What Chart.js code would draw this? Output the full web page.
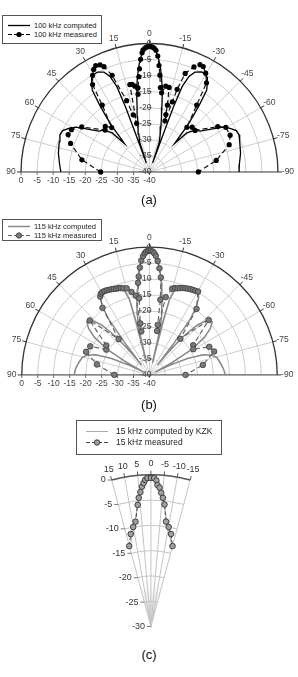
<!DOCTYPE html>
<html><head><meta charset="utf-8">
<script src="https://cdn.jsdelivr.net/npm/chart.js@4.4.0/dist/chart.umd.min.js"></script>
<style>
html,body{margin:0;padding:0;background:#fff;}
body{width:298px;height:677px;position:relative;overflow:hidden;font-family:"Liberation Sans",Arial,sans-serif;}
canvas{position:absolute;}
.legend{position:absolute;border:1px solid #555;background:#fff;z-index:2;box-sizing:border-box;}
.row{position:absolute;left:0;right:0;height:9px;white-space:nowrap;color:#222;}
.row svg{position:absolute;top:0;}
.row span{position:absolute;top:0;line-height:9px;}
.cap{position:absolute;left:0;width:298px;text-align:center;font-size:13px;line-height:16px;color:#111;z-index:2;}
</style></head><body>
<canvas id="ca"></canvas>
<canvas id="cb"></canvas>
<canvas id="cc"></canvas>

<div class="legend" style="left:2px;top:15px;width:100px;height:29px;font-size:7.5px;">
  <div class="row" style="top:5px;"><svg width="24" height="9" style="left:5px"><line x1="0" y1="4.5" x2="22" y2="4.5" stroke="#000" stroke-width="1.3"/></svg><span style="left:31px">100 kHz computed</span></div>
  <div class="row" style="top:14px;"><svg width="24" height="9" style="left:5px"><line x1="0" y1="4.5" x2="22" y2="4.5" stroke="#000" stroke-width="1.2" stroke-dasharray="4 2"/><circle cx="11" cy="4.5" r="2.6" fill="#000"/></svg><span style="left:31px">100 kHz measured</span></div>
</div>
<div class="cap" style="top:192px;">(a)</div>

<div class="legend" style="left:2px;top:219px;width:100px;height:22px;font-size:7.5px;">
  <div class="row" style="top:2px;"><svg width="24" height="9" style="left:5px"><line x1="0" y1="4.5" x2="22" y2="4.5" stroke="#888" stroke-width="1.5"/></svg><span style="left:31px">115 kHz computed</span></div>
  <div class="row" style="top:11px;"><svg width="24" height="9" style="left:5px"><line x1="0" y1="4.5" x2="22" y2="4.5" stroke="#666" stroke-width="1.2" stroke-dasharray="4 2"/><circle cx="11" cy="4.5" r="2.7" fill="#7a7a7a" stroke="#3a3a3a" stroke-width="0.8"/></svg><span style="left:31px">115 kHz measured</span></div>
</div>
<div class="cap" style="top:397px;">(b)</div>

<div class="legend" style="left:76px;top:420px;width:146px;height:35px;font-size:8.5px;">
  <div class="row" style="top:6px;"><svg width="24" height="9" style="left:9px"><line x1="0" y1="4.5" x2="22" y2="4.5" stroke="#aaa" stroke-width="1"/></svg><span style="left:39px">15 kHz computed by KZK</span></div>
  <div class="row" style="top:17px;"><svg width="24" height="9" style="left:9px"><line x1="0" y1="4.5" x2="22" y2="4.5" stroke="#444" stroke-width="1" stroke-dasharray="4 2"/><circle cx="11" cy="4.5" r="2.7" fill="#a0a0a0" stroke="#333" stroke-width="0.9"/></svg><span style="left:39px">15 kHz measured</span></div>
</div>
<div class="cap" style="top:647px;">(c)</div>

<script>
// ---------------- DATA ----------------
// (a) 100 kHz : angle (deg, + = left) and level (dB)
const A_COMP_ANG = [90,85,78,71,67,64,61,58,54.7,50.6,47,43,40.8,39.9,38.8,37.5,36,34.4,33,31,29,27,24,22,20.5,19.8,19.6,19.2,17.8,15.5,13.7,12,10.6,9,8,7,6,5,4,3,2,1,0,
  -1,-2,-3,-4,-5,-6,-7,-8,-9,-10.6,-12,-13.7,-15.5,-17.8,-19.2,-19.6,-19.8,-20.5,-22,-24,-27,-29,-31,-33,-34.4,-36,-37.5,-38.8,-39.9,-40.8,-43,-47,-50.6,-54.7,-58,-61,-64,-67,-71,-78,-85,-90];
const A_COMP_DB = [-12.4,-11.9,-11,-10.3,-9.7,-9.9,-11.3,-13,-16.4,-19.5,-20.5,-23,-28,-26,-21.7,-18,-13.5,-8.5,-7,-5,-4.4,-4.3,-5.2,-7.2,-11,-18,-27,-37,-30,-27.5,-25,-22,-19,-14.5,-12,-9.3,-7,-4.8,-3,-1.6,-0.7,-0.2,0,
  -0.2,-0.7,-1.6,-3,-4.8,-7,-9.3,-12,-14.5,-19,-22,-25,-27.5,-30,-37,-27,-18,-11,-7.2,-5.2,-4.2,-4.4,-5,-7,-8.5,-13.5,-18,-21.7,-26,-28,-23,-20.5,-19.5,-16.4,-13,-11.3,-9.9,-9.7,-10.3,-11,-11.9,-12.1];
const A_MEAS_ANG = [90,79.6,69.7,64.8,61,55.8,46,43.5,39.8,34.6,32.5,29.9,28,26.3,24.3,22.9,20.7,17.4,15.6,14.5,12.4,11,9.5,8.2,7.6,6.2,5.4,4.4,3.5,3,2.2,1.5,0.8,0,
  -0.8,-1.5,-2.2,-3,-4,-5,-6,-7.2,-8.5,-10.5,-12.8,-14.7,-15.6,-16.5,-17.7,-18.1,-19.5,-22.5,-24.7,-26.5,-29.1,-32,-34.6,-39.3,-43,-47,-55.8,-59.1,-65,-70.7,-80,-90];
const A_MEAS_DB = [-24.8,-18.6,-13.8,-12,-12.2,-14.5,-20.8,-20,-21.6,-14.1,-7,-4.5,-3,-2.2,-2.6,-3.6,-7.1,-16.2,-21.1,-24,-11.5,-11.6,-12.3,-15,-13,-9.5,-7,-4,-2,-1.1,-0.6,-0.3,-0.1,0,
  -0.1,-0.3,-0.6,-1.2,-3,-6,-9,-12.9,-14.5,-12.2,-12.4,-18,-21,-23,-16.6,-12.3,-6.7,-3.8,-2.4,-2.5,-4,-6.5,-14.1,-21.6,-20.5,-20.6,-14.3,-12.3,-12.3,-13.7,-18.9,-24.8];

// (b) 115 kHz
const B_COMP_ANG = [90,85,80,75,72,69,66,64,62.5,61,58,55,52,49,46,43,40.5,39,38,37,35.5,34,32,30,28,25,22,19,16,14.5,13.8,13.3,12.8,12,11,10,9,8,7,6,5,4,3,2,1,0,
  -1,-2,-3,-4,-5,-6,-7,-8,-9,-10,-11,-12,-12.8,-13.3,-13.8,-14.5,-16,-19,-22,-25,-28,-30,-32,-34,-35.5,-37,-38,-39,-40.5,-43,-46,-49,-52,-55,-58,-61,-62.5,-64,-66,-69,-72,-75,-80,-85,-90];
const B_COMP_DB = [-16.4,-16.8,-17.5,-18.2,-19.5,-22,-27,-33,-38,-32,-24,-19,-15.8,-14,-14.6,-18,-24,-30,-36,-28,-18,-14,-11,-9.5,-9.2,-9.6,-10.3,-11,-12,-15,-22,-36,-28,-23,-20,-17.5,-15,-12.5,-10,-7.5,-5.3,-3.3,-1.8,-0.8,-0.2,0,
  -0.2,-0.8,-1.8,-3.3,-5.3,-7.5,-10,-12.5,-15,-17.5,-20,-23,-28,-36,-22,-15,-12,-11,-10.3,-9.6,-9.2,-9.5,-11,-14,-18,-28,-36,-30,-24,-18,-14.6,-14,-15.8,-19,-24,-32,-38,-33,-27,-22,-19.5,-18.2,-17.5,-16.8,-16.2];
const B_MEAS_ANG = [90,78.4,69.5,63.7,59,55,46.9,40,34.3,31.5,30.2,29,27.6,26.2,24.8,23.4,22,20.6,19.2,17.8,16.4,14.4,11.9,9.6,10.4,9.9,7.5,6.9,6.1,5,4,3,2.2,1.5,0.7,0,
  -0.7,-1.5,-2.2,-3,-4,-5.2,-6.5,-8,-9.1,-9.5,-11.5,-14.4,-16,-17.5,-19,-20.5,-22,-23.4,-25,-26.5,-28,-29.6,-34.8,-39.8,-46.4,-55.1,-59,-64.3,-69.6,-79.2,-90];
const B_MEAS_DB = [-29,-23.2,-18.8,-19.3,-24.2,-23.5,-14.4,-25,-13.9,-10.5,-9.8,-9.6,-9.6,-9.7,-9.9,-10,-10.2,-10.4,-10.5,-10.7,-11,-11.3,-12.8,-14.2,-25.8,-23.2,-15.2,-10.2,-8.2,-5.4,-3.2,-1.8,-0.9,-0.4,-0.1,0,
  -0.1,-0.4,-0.9,-1.7,-3.3,-5.6,-8.5,-15.6,-23.7,-25.7,-14.5,-11.4,-11,-10.8,-10.5,-10.2,-10,-9.8,-9.6,-9.5,-9.4,-9.2,-14.2,-24.9,-14.4,-23.3,-24,-19.2,-18.4,-23,-28.7];

// (c) 15 kHz
const C_COMP_ANG = [15,14,13,12,11,10,9,8,7,6,5,4,3,2,1,0,-1,-2,-3,-4,-5,-6,-7,-8,-9,-10,-11,-12,-13,-14,-15];
const C_COMP_DB = [-13.5,-13,-12.4,-11.7,-11,-10.2,-9.3,-8.1,-6.6,-4.9,-3.4,-2.1,-1.1,-0.4,-0.1,0,-0.1,-0.4,-1.1,-2.1,-3.4,-4.9,-6.6,-8.1,-9.3,-10.2,-11,-11.7,-12.4,-13,-13.5];
const C_MEAS_ANG = [14.8,12.1,9.9,8.2,6.1,5.3,4.4,3.6,2.9,2.2,1.35,0,-1.2,-2.1,-2.6,-3.5,-4.3,-5.2,-6.2,-8.0,-9.9,-12.0,-14.7];
const C_MEAS_DB = [-13.2,-10.9,-9.6,-8.6,-5.3,-3.9,-2.8,-1.7,-1.0,-0.35,0,0,0,-0.5,-1.4,-1.9,-2.9,-3.9,-5.2,-8.6,-9.6,-10.9,-13.2];

// tick labels
const HALF_ANGLE_TICKS = [90,75,60,45,30,15,0,-15,-30,-45,-60,-75,-90];
const HALF_DB_TICKS = [0,-5,-10,-15,-20,-25,-30,-35,-40];
const C_ANGLE_TICKS = [15,10,5,0,-5,-10,-15];
const C_DB_TICKS = [0,-5,-10,-15,-20,-25,-30];

// ---------------- HELPERS ----------------
function polarData(ang, db, floor){
  return ang.map((a,i)=>{ const r=Math.max(0, db[i]-floor); const t=a*Math.PI/180; return {x:-r*Math.sin(t), y:r*Math.cos(t)}; });
}
function fmt(v){ return String(v); }

function gridPlugin(o){
  return { id:'polarGrid', beforeDatasetsDraw(chart){
    const ctx=chart.ctx, sx=chart.scales.x, sy=chart.scales.y;
    const cx=sx.getPixelForValue(0), cy=sy.getPixelForValue(0), k=sx.getPixelForValue(1)-cx;
    const floor=o.floor, R=-floor*k;
    const P=(a,r)=>{const t=a*Math.PI/180; return [cx-r*Math.sin(t), cy-r*Math.cos(t)];};
    const line=(x1,y1,x2,y2)=>{ctx.beginPath();ctx.moveTo(x1,y1);ctx.lineTo(x2,y2);ctx.stroke();};
    ctx.save();
    ctx.lineCap='butt';
    if(o.kind==='half'){
      ctx.strokeStyle='#cdcdcd'; ctx.lineWidth=1;
      for(const d of o.dbTicks){ if(d===0||d===floor) continue; const r=(d-floor)*k; ctx.beginPath(); ctx.arc(cx,cy,r,Math.PI,2*Math.PI); ctx.stroke(); }
      for(const a of o.angleTicks){ if(Math.abs(a)===90) continue; const p=P(a,R); line(cx,cy,p[0],p[1]); }
      ctx.strokeStyle='#333'; ctx.lineWidth=1.3;
      ctx.beginPath(); ctx.arc(cx,cy,R,Math.PI,2*Math.PI); ctx.stroke();
      ctx.lineWidth=1;
      line(cx-R,cy,cx+R,cy);
      for(const a of o.angleTicks){ const p1=P(a,R), p2=P(a,R+4); line(p1[0],p1[1],p2[0],p2[1]); }
      ctx.strokeStyle='#666';
      for(const d of o.dbTicks){ const x=cx-(d-floor)*k; line(x,cy,x,cy+3); }
      for(const d of o.dbTicks){ const y=cy-(d-floor)*k; line(cx-2,y,cx+2,y); }
      ctx.fillStyle='#444'; ctx.font='8.5px "Liberation Sans", Arial, sans-serif';
      ctx.textAlign='center'; ctx.textBaseline='middle';
      for(const a of o.angleTicks){ const p=P(a,R+10); ctx.fillText(fmt(a),p[0],p[1]); }
      for(const d of o.dbTicks){ const x=cx-(d-floor)*k; ctx.fillText(fmt(d),x,cy+9); }
      ctx.textAlign='right';
      for(const d of o.dbTicks){ const y=cy-(d-floor)*k; ctx.fillText(fmt(d),cx+2,y); }
    } else {
      const amax=o.angleTicks[0];
      const a0=-Math.PI/2-amax*Math.PI/180, a1=-Math.PI/2+amax*Math.PI/180;
      // soft grey shading near the apex
      const g=ctx.createRadialGradient(cx,cy,0,cx,cy,R*0.3);
      g.addColorStop(0,'rgba(150,150,150,0.55)'); g.addColorStop(1,'rgba(200,200,200,0)');
      ctx.fillStyle=g; ctx.beginPath(); ctx.moveTo(cx,cy); ctx.arc(cx,cy,R*0.3,a0,a1); ctx.closePath(); ctx.fill();
      ctx.strokeStyle='#c4c4c4'; ctx.lineWidth=1;
      for(const d of o.dbTicks){ if(d===0||d===floor) continue; const r=(d-floor)*k; ctx.beginPath(); ctx.arc(cx,cy,r,a0,a1); ctx.stroke(); }
      for(const a of o.angleTicks){ const p=P(a,R); line(cx,cy,p[0],p[1]); }
      ctx.strokeStyle='#555'; ctx.lineWidth=1.4;
      ctx.beginPath(); ctx.arc(cx,cy,R,a0,a1); ctx.stroke();
      ctx.lineWidth=1;
      for(const a of o.angleTicks){ const p1=P(a,R), p2=P(a,R+4); line(p1[0],p1[1],p2[0],p2[1]); }
      ctx.strokeStyle='#777';
      for(const d of o.dbTicks){ const p=P(amax,(d-floor)*k); line(p[0]-4,p[1],p[0],p[1]); }
      ctx.fillStyle='#333'; ctx.font='9px "Liberation Sans", Arial, sans-serif';
      ctx.textAlign='center'; ctx.textBaseline='middle';
      for(const a of o.angleTicks){ const p=P(a,R+11); ctx.fillText(fmt(a),p[0],p[1]); }
      ctx.textAlign='right';
      for(const d of o.dbTicks){ const p=P(amax,(d-floor)*k); ctx.fillText(fmt(d),p[0]-6,p[1]); }
    }
    ctx.restore();
  }};
}

function makeChart(id, geo, datasets, grid){
  const cv=document.getElementById(id);
  cv.width=geo.W; cv.height=geo.H;
  cv.style.left=geo.left+'px'; cv.style.top=geo.top+'px';
  cv.style.width=geo.W+'px'; cv.style.height=geo.H+'px';
  const xmin=-geo.cx/geo.k, xmax=(geo.W-geo.cx)/geo.k;
  const ymax=geo.cy/geo.k, ymin=-(geo.H-geo.cy)/geo.k;
  return new Chart(cv,{type:'scatter',data:{datasets},options:{
    responsive:false, maintainAspectRatio:false, animation:false, devicePixelRatio:1, events:[],
    layout:{padding:0},
    plugins:{legend:{display:false},tooltip:{enabled:false}},
    scales:{x:{type:'linear',display:false,min:xmin,max:xmax},y:{type:'linear',display:false,min:ymin,max:ymax}}
  },plugins:[gridPlugin(grid)]});
}

// ---------------- CHARTS ----------------
makeChart('ca',{left:0,top:30,W:298,H:165,cx:149.5,cy:145,k:3.3},[
  {label:'100 kHz measured',data:polarData(A_MEAS_ANG,A_MEAS_DB,-40),showLine:true,borderColor:'#111',borderWidth:1.2,borderDash:[5,3],pointRadius:2.6,pointBackgroundColor:'#000',pointBorderColor:'#000',pointBorderWidth:0,order:0},
  {label:'100 kHz computed',data:polarData(A_COMP_ANG,A_COMP_DB,-40),showLine:true,borderColor:'#000',borderWidth:1.3,pointRadius:0,order:1}
],{kind:'half',floor:-40,angleTicks:HALF_ANGLE_TICKS,dbTicks:HALF_DB_TICKS});

makeChart('cb',{left:0,top:230,W:298,H:170,cx:149.5,cy:148.5,k:3.3},[
  {label:'115 kHz measured',data:polarData(B_MEAS_ANG,B_MEAS_DB,-40),showLine:true,borderColor:'#666',borderWidth:1.2,borderDash:[5,3],pointRadius:2.8,pointBackgroundColor:'#7a7a7a',pointBorderColor:'#3a3a3a',pointBorderWidth:0.8,order:0},
  {label:'115 kHz computed',data:polarData(B_COMP_ANG,B_COMP_DB,-40),showLine:true,borderColor:'#888',borderWidth:1.5,pointRadius:0,order:1}
],{kind:'half',floor:-40,angleTicks:HALF_ANGLE_TICKS,dbTicks:HALF_DB_TICKS});

makeChart('cc',{left:0,top:455,W:298,H:185,cx:151,cy:176,k:5.23},[
  {label:'15 kHz measured',data:polarData(C_MEAS_ANG,C_MEAS_DB,-30),showLine:true,borderColor:'#444',borderWidth:1,borderDash:[4,2],pointRadius:2.8,pointBackgroundColor:'#a0a0a0',pointBorderColor:'#333',pointBorderWidth:0.9,order:0},
  {label:'15 kHz computed by KZK',data:polarData(C_COMP_ANG,C_COMP_DB,-30),showLine:true,borderColor:'#aaa',borderWidth:1,pointRadius:0,order:1}
],{kind:'sector',floor:-30,angleTicks:C_ANGLE_TICKS,dbTicks:C_DB_TICKS});
</script>
</body></html>
